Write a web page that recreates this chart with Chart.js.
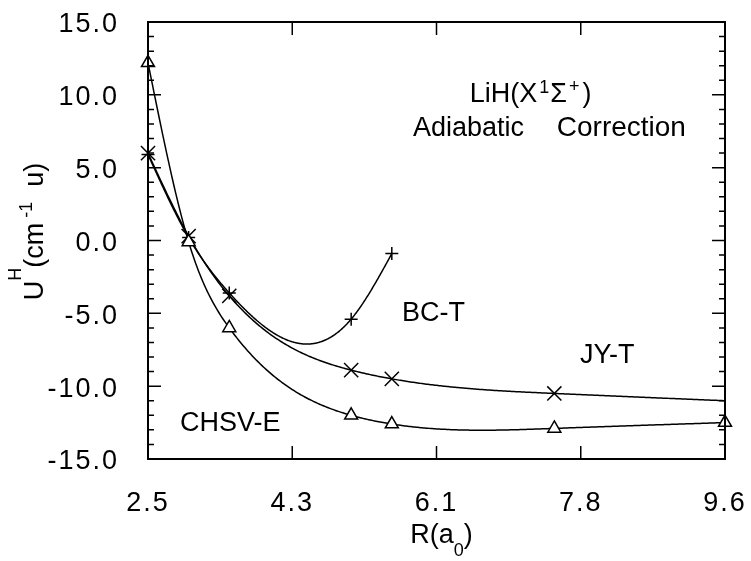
<!DOCTYPE html>
<html>
<head>
<meta charset="utf-8">
<script src="https://cdn.jsdelivr.net/npm/chart.js@4"></script>
<style>
  html, body { margin: 0; padding: 0; background: #fff; }
  canvas { display: block; }
</style>
</head>
<body>
<canvas id="chart" width="751" height="561"></canvas>
<script>
// ============================================
// DATOS
// ============================================

const rValues = [2.5, 3.0, 3.5, 5.0, 5.5, 7.5, 9.6];

// CHSV-E (triangulos)
const chsvE = [12.2, -0.1, -6.0, -12.0, -12.6, -12.9, -12.5];

// JY-T (aspas)
const jyT = [6.0, 0.3, -3.8, -8.9, -9.5, -10.5, -11.0];

// BC-T (cruces)
const bcTR = [2.5, 3.0, 3.5, 5.0, 5.5];
const bcT = [5.9, 0.2, -3.6, -5.4, -0.9];

const xTickValues = [2.5, 4.275, 6.05, 7.825, 9.6];
const xTickLabels = ['2.5', '4.3', '6.1', '7.8', '9.6'];
const yTickValues = [-15, -10, -5, 0, 5, 10, 15];

const FONT = "'Liberation Sans', Arial, sans-serif";


// ============================================
// SPLINE CUBICO NATURAL
// ============================================

function naturalSpline(xs, ys) {

    const n = xs.length;
    const h = [], alpha = [], l = [1], mu = [0], z = [0];
    const b = [], c = [], d = [];

    for (let i = 0; i < n - 1; i++) h[i] = xs[i + 1] - xs[i];

    for (let i = 1; i < n - 1; i++) {
        alpha[i] = 3 / h[i] * (ys[i + 1] - ys[i]) - 3 / h[i - 1] * (ys[i] - ys[i - 1]);
    }

    for (let i = 1; i < n - 1; i++) {
        l[i] = 2 * (xs[i + 1] - xs[i - 1]) - h[i - 1] * mu[i - 1];
        mu[i] = h[i] / l[i];
        z[i] = (alpha[i] - h[i - 1] * z[i - 1]) / l[i];
    }

    c[n - 1] = 0;
    for (let j = n - 2; j >= 0; j--) {
        c[j] = z[j] - mu[j] * c[j + 1];
        b[j] = (ys[j + 1] - ys[j]) / h[j] - h[j] * (c[j + 1] + 2 * c[j]) / 3;
        d[j] = (c[j + 1] - c[j]) / (3 * h[j]);
    }

    return x => {
        let j = 0;
        while (j < n - 2 && x > xs[j + 1]) j++;
        const dx = x - xs[j];
        return ys[j] + b[j] * dx + c[j] * dx * dx + d[j] * dx * dx * dx;
    };
}

const curves = [
    { xs: rValues, ys: chsvE },
    { xs: rValues, ys: jyT },
    { xs: bcTR, ys: bcT }
];


// ============================================
// TEXTO CON SUPER / SUBINDICES
// ============================================

function richWidth(ctx, parts) {
    let w = 0;
    parts.forEach(p => {
        ctx.font = p.size + 'px ' + FONT;
        w += (p.gap || 0) + ctx.measureText(p.t).width;
    });
    return w;
}

function drawRich(ctx, x, y, parts) {
    let cx = x;
    parts.forEach(p => {
        ctx.font = p.size + 'px ' + FONT;
        cx += p.gap || 0;
        ctx.fillText(p.t, cx, y + (p.dy || 0));
        cx += ctx.measureText(p.t).width;
    });
}

function noPadding(s) {
    s.paddingLeft = 0;
    s.paddingRight = 0;
    s.paddingTop = 0;
    s.paddingBottom = 0;
}


// ============================================
// PLUGIN: marco, marcas, curvas y textos
// ============================================

const framePlugin = {

    id: 'frame',

    beforeUpdate(chart) {
        chart.ctx.letterSpacing = '2px';
    },

    beforeDraw(chart) {
        chart.ctx.letterSpacing = '2px';
    },

    beforeDatasetsDraw(chart) {

        const ctx = chart.ctx;
        const xs = chart.scales.x;
        const ys = chart.scales.y;
        const a = chart.chartArea;

        ctx.save();
        ctx.beginPath();
        ctx.rect(a.left, a.top, a.right - a.left, a.bottom - a.top);
        ctx.clip();
        ctx.strokeStyle = '#000';
        ctx.lineWidth = 1.5;
        ctx.lineJoin = 'round';

        curves.forEach(cv => {
            const f = naturalSpline(cv.xs, cv.ys);
            const x0 = cv.xs[0];
            const x1 = cv.xs[cv.xs.length - 1];
            ctx.beginPath();
            for (let k = 0; k <= 400; k++) {
                const x = x0 + (x1 - x0) * k / 400;
                const px = xs.getPixelForValue(x);
                const py = ys.getPixelForValue(f(x));
                if (k === 0) ctx.moveTo(px, py); else ctx.lineTo(px, py);
            }
            ctx.stroke();
        });

        ctx.restore();
    },

    afterDraw(chart) {

        const ctx = chart.ctx;
        const xs = chart.scales.x;
        const ys = chart.scales.y;
        const a = chart.chartArea;

        ctx.save();
        ctx.letterSpacing = '0px';
        ctx.strokeStyle = '#000';
        ctx.fillStyle = '#000';

        // marco
        ctx.lineWidth = 2;
        ctx.strokeRect(a.left, a.top, a.right - a.left, a.bottom - a.top);

        // marcas del eje y (hacia dentro, a ambos lados)
        ctx.lineWidth = 1.5;
        ctx.beginPath();
        for (let v = ys.min; v <= ys.max; v += 1) {
            const py = ys.getPixelForValue(v);
            const len = (v % 5 === 0) ? 13 : 6;
            ctx.moveTo(a.left, py);
            ctx.lineTo(a.left + len, py);
            ctx.moveTo(a.right, py);
            ctx.lineTo(a.right - len, py);
        }
        // marcas del eje x
        xs.ticks.forEach(t => {
            const px = xs.getPixelForValue(t.value);
            ctx.moveTo(px, a.bottom);
            ctx.lineTo(px, a.bottom - 13);
            ctx.moveTo(px, a.top);
            ctx.lineTo(px, a.top + 13);
        });
        ctx.stroke();

        ctx.textBaseline = 'alphabetic';
        ctx.textAlign = 'left';

        // etiquetas dentro del grafico
        const X = v => xs.getPixelForValue(v);
        const Y = v => ys.getPixelForValue(v);

        drawRich(ctx, X(6.46), Y(9.53), [
            { t: 'LiH(X', size: 27 },
            { t: '1', size: 18, dy: -9, gap: 2 },
            { t: '\u03A3', size: 27, gap: 1 },
            { t: '+', size: 18, dy: -10, gap: 2 },
            { t: ')', size: 27, gap: 3 }
        ]);
        drawRich(ctx, X(5.76), Y(7.14), [{ t: 'Adiabatic', size: 27 }]);
        drawRich(ctx, X(7.53), Y(7.14), [{ t: 'Correction', size: 28 }]);
        drawRich(ctx, X(5.625), Y(-5.5), [{ t: 'BC-T', size: 27 }]);
        drawRich(ctx, X(7.815), Y(-8.44), [{ t: 'JY-T', size: 27 }]);
        drawRich(ctx, X(2.894), Y(-13.09), [{ t: 'CHSV-E', size: 27 }]);

        // titulo eje x
        const xTitle = [
            { t: 'R(a', size: 27 },
            { t: '0', size: 18, dy: 13 },
            { t: ')', size: 27 }
        ];
        const wx = richWidth(ctx, xTitle);
        drawRich(ctx, (a.left + a.right) / 2 + 5 - wx / 2, a.bottom + 84, xTitle);

        // titulo eje y
        const yTitle = [
            { t: 'U', size: 27 },
            { t: 'H', size: 18, dy: -22 },
            { t: '(cm', size: 27 },
            { t: ' -1', size: 18, dy: -11 },
            { t: '  u)', size: 27 }
        ];
        const wy = richWidth(ctx, yTitle);
        ctx.translate(a.left - 105, (a.top + a.bottom) / 2 - 9 + wy / 2);
        ctx.rotate(-Math.PI / 2);
        drawRich(ctx, 0, 0, yTitle);

        ctx.restore();
    }
};


// ============================================
// GRAFICA
// ============================================

const tickFont = { family: FONT, size: 27 };

new Chart(document.getElementById('chart').getContext('2d'), {

    type: 'scatter',

    data: {
        datasets: [
            {
                label: 'CHSV-E',
                data: rValues.map((r, i) => ({ x: r, y: chsvE[i] })),
                pointStyle: 'triangle',
                pointRadius: 7.5,
                pointBorderWidth: 1.5,
                pointBorderColor: '#000',
                pointBackgroundColor: '#fff',
                showLine: false,
                clip: false
            },
            {
                label: 'JY-T',
                data: rValues.map((r, i) => ({ x: r, y: jyT[i] })),
                pointStyle: 'crossRot',
                pointRadius: [10, 10, 10, 10, 10, 10, 0],
                pointBorderWidth: 1.5,
                pointBorderColor: '#000',
                showLine: false,
                clip: false
            },
            {
                label: 'BC-T',
                data: bcTR.map((r, i) => ({ x: r, y: bcT[i] })),
                pointStyle: 'cross',
                pointRadius: 6.5,
                pointBorderWidth: 1.5,
                pointBorderColor: '#000',
                showLine: false,
                clip: false
            }
        ]
    },

    options: {

        responsive: false,
        animation: false,
        devicePixelRatio: 1,

        layout: {
            padding: { top: 22, right: 26, left: 0, bottom: 0 }
        },

        plugins: {
            legend: { display: false },
            tooltip: { enabled: false }
        },

        scales: {

            x: {
                type: 'linear',
                min: 2.5,
                max: 9.6,
                grid: { display: false, drawTicks: false },
                border: { display: false },
                afterBuildTicks: s => { s.ticks = xTickValues.map(v => ({ value: v })); },
                afterFit: s => { s.height = 102; noPadding(s); },
                ticks: {
                    callback: (v, i) => xTickLabels[i],
                    font: tickFont,
                    color: '#000',
                    padding: 28,
                    maxRotation: 0,
                    autoSkip: false
                }
            },

            y: {
                type: 'linear',
                min: -15,
                max: 15,
                grid: { display: false, drawTicks: false },
                border: { display: false },
                afterBuildTicks: s => { s.ticks = yTickValues.map(v => ({ value: v })); },
                afterFit: s => { s.width = 148; noPadding(s); },
                ticks: {
                    callback: v => v.toFixed(1),
                    font: tickFont,
                    color: '#000',
                    padding: 29,
                    labelOffset: 3
                }
            }
        }
    },

    plugins: [framePlugin]
});
</script>
</body>
</html>
